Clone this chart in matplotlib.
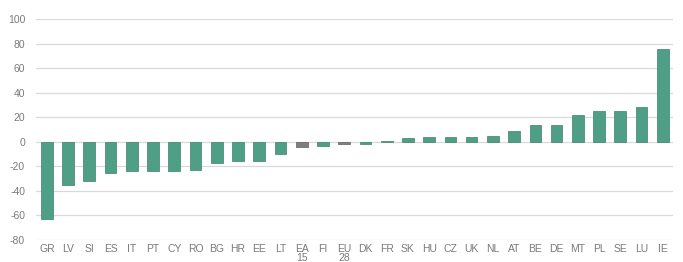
import matplotlib
matplotlib.use("Agg")
import matplotlib.pyplot as plt

plt.rcParams["font.family"] = ["Liberation Sans", "DejaVu Sans"]

categories = ["GR", "LV", "SI", "ES", "IT", "PT", "CY", "RO", "BG", "HR", "EE", "LT",
              "EA\n15", "FI", "EU\n28", "DK", "FR", "SK", "HU", "CZ", "UK", "NL", "AT",
              "BE", "DE", "MT", "PL", "SE", "LU", "IE"]
values = [-63, -35, -32, -25, -24, -24, -24, -23, -17, -16, -16, -10,
          -4, -3, -2, -1.5, 1, 3, 4, 4, 4, 5, 9,
          14, 14, 22, 25, 25, 28, 76]
aggregates = ["EA\n15", "EU\n28"]
yticks = [-80, -60, -40, -20, 0, 20, 40, 60, 80, 100]

green = "#4f9f86"
gray = "#7f7f7f"
colors = [gray if c in aggregates else green for c in categories]
edges = ["#5f5f5f" if c in aggregates else "#3f7f6b" for c in categories]

fig = plt.figure(figsize=(6.83, 2.62), dpi=100)
ax = fig.add_axes([0.053, 0.084, 0.933, 0.843])
x = range(len(categories))
ax.bar(x, values, width=0.55, color=colors, edgecolor=edges, linewidth=0.5, zorder=3)
ax.set_xlim(-0.5, len(categories) - 0.5)
ax.set_ylim(-80, 100)
ax.set_yticks(yticks)
ax.set_yticklabels([str(v) for v in yticks])
ax.set_xticks(list(x))
ax.set_xticklabels(categories, linespacing=0.8)
ax.grid(axis="y", color="#d9d9d9", linewidth=0.9, zorder=0)
for s in ax.spines.values():
    s.set_visible(False)
ax.tick_params(axis="both", length=0, labelsize=7.5, colors="#7a7a7a", pad=3)
ax.tick_params(axis="y", pad=8)
fig.savefig("out.png", dpi=100, facecolor="white")
